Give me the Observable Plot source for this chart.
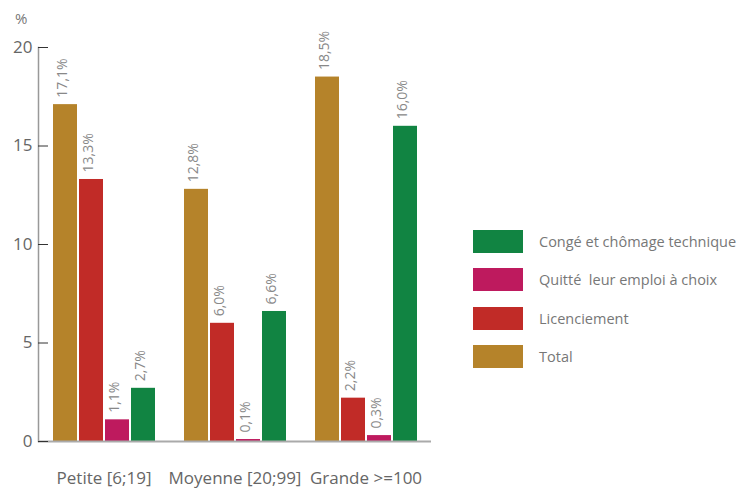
<!DOCTYPE html>
<html>
<head>
<meta charset="utf-8">
<script src="https://cdn.jsdelivr.net/npm/d3@7"></script>
<script src="https://cdn.jsdelivr.net/npm/@observablehq/plot@0.6"></script>
<style>
  html, body { margin: 0; padding: 0; background: #fff; }
  #wrap { position: relative; width: 737px; height: 490px; font-family: "Open Sans", sans-serif; }
  #unit { position: absolute; left: 15px; top: 8px; font-size: 15px; color: #777; }
  #legend { position: absolute; left: 473px; top: 230px; }
  .row { display: flex; align-items: center; height: 23px; margin-bottom: 15.3px; }
  .sw { width: 50px; height: 23px; margin-right: 16px; }
  .lab { font-size: 14.5px; color: #777; white-space: pre; }
</style>
</head>
<body>
<div id="wrap"></div>
<script>
const groups = ["Petite [6;19]", "Moyenne [20;99]", "Grande >=100"];
const series = ["Total", "Licenciement", "Quitté  leur emploi à choix", "Congé et chômage technique"];
const colors = ["#b5832a", "#c12b27", "#be1a5e", "#118442"];
const total = [17.1, 12.8, 18.5];
const licenciement = [13.3, 6.0, 2.2];
const quitte = [1.1, 0.1, 0.3];
const conge = [2.7, 6.6, 16.0];
const yTicks = [0, 5, 10, 15, 20];
const unitLabel = "%";

const seriesValues = [total, licenciement, quitte, conge];
const data = [];
groups.forEach((g, gi) => {
  series.forEach((s, si) => {
    data.push({group: g, series: s, value: seriesValues[si][gi]});
  });
});
const fmt = v => v.toFixed(1).replace(".", ",") + "%";

const chart = Plot.plot({
  width: 737,
  height: 490,
  marginLeft: 37,
  marginRight: 305,
  marginTop: 47,
  marginBottom: 49,
  style: {fontFamily: "Open Sans, sans-serif", background: "transparent"},
  fx: {domain: groups, paddingInner: 0, paddingOuter: 0},
  x: {domain: series, paddingInner: 0.087, paddingOuter: 0.546, axis: null},
  y: {domain: [0, 20]},
  color: {domain: series, range: colors},
  marks: [
    Plot.frame({anchor: "left", facetAnchor: "left", stroke: "#999", strokeWidth: 1.5}),
    Plot.barY(data, {fx: "group", x: "series", y: "value", fill: "series"}),
    Plot.ruleY([0], {stroke: "#aaa", strokeWidth: 2}),
    Plot.text(data, {fx: "group", x: "series", y: "value", text: d => fmt(d.value),
      rotate: -90, textAnchor: "start", dy: -7, dx: -3, fontSize: 14, fill: "#888"}),
    Plot.axisY({ticks: yTicks, tickSize: -10, fill: "none", stroke: "#333", label: null}),
    Plot.axisY({ticks: yTicks, tickSize: 0, tickPadding: 6, fontSize: 17, fill: "#666", label: null}),
    Plot.axisFx({anchor: "bottom", tickSize: 0, tickPadding: 30, fontSize: 17, fill: "#666", label: null})
  ]
});

const wrap = document.getElementById("wrap");
wrap.appendChild(chart);
const unit = document.createElement("div");
unit.id = "unit";
unit.textContent = unitLabel;
wrap.appendChild(unit);

const legend = document.createElement("div");
legend.id = "legend";
series.slice().reverse().forEach(s => {
  const row = document.createElement("div");
  row.className = "row";
  const sw = document.createElement("div");
  sw.className = "sw";
  sw.style.background = colors[series.indexOf(s)];
  const lab = document.createElement("span");
  lab.className = "lab";
  lab.textContent = s;
  row.appendChild(sw);
  row.appendChild(lab);
  legend.appendChild(row);
});
wrap.appendChild(legend);
</script>
</body>
</html>
